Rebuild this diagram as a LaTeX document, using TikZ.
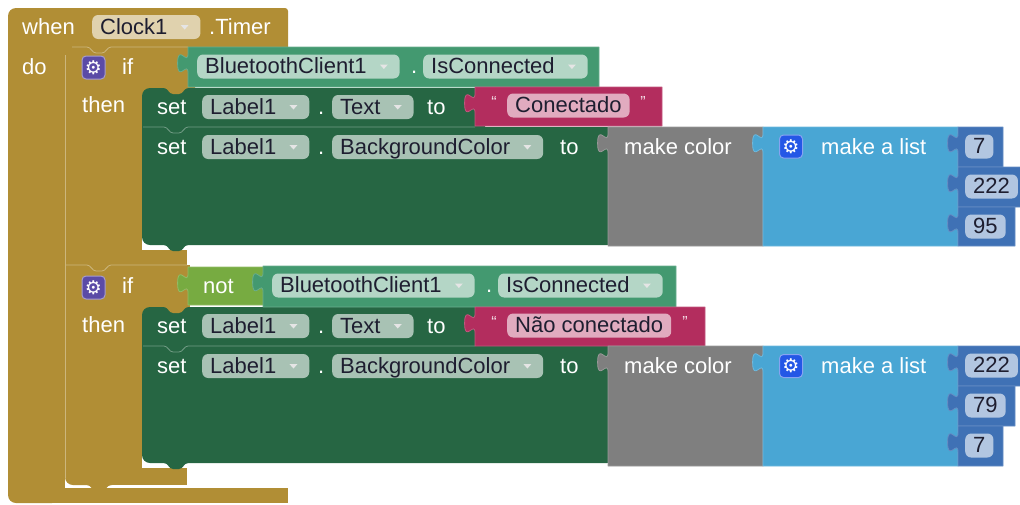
\documentclass[tikz,border=0pt]{standalone}
\usepackage{fontspec}
\setmainfont{Liberation Sans}
\newfontfamily\gearfont{DejaVu Sans}

% block palette
\definecolor{ctl}{HTML}{B18E35}
\definecolor{cget}{HTML}{439970}
\definecolor{cset}{HTML}{266643}
\definecolor{ctxt}{HTML}{B32D5E}
\definecolor{cmk}{HTML}{7F7F7F}
\definecolor{clst}{HTML}{49A6D4}
\definecolor{cnum}{HTML}{3F71B5}
\definecolor{clgc}{HTML}{77AB41}
\definecolor{ink}{HTML}{1E1E30}
\definecolor{gearp}{HTML}{5B4BA6}
\definecolor{gearb}{HTML}{2457E6}

% value block: body L,T,R,B with a puzzle tab on its left edge
\newcommand\valblk[5]{%
  \path[fill=#5, draw=#5!80!white, line width=0.8pt, line join=round]
    (#1,#2) -- (#3,#2) -- (#3,#4) -- (#1,#4) -- (#1,#2+26)
    .. controls (#1,#2+13) and (#1-10.4,#2+36.4) .. (#1-10.4,#2+16.25)
    .. controls (#1-10.4,#2-3.9) and (#1,#2+19.5) .. (#1,#2+6.5) -- cycle;}

% statement connector bump hanging below an edge: start x, edge y, colour
\newcommand\bump[3]{%
  \fill[#3] (#1,#2-1) -- (#1,#2) .. controls (#1+4,#2) and (#1+5,#2+6) .. (#1+9,#2+6)
    -- (#1+15,#2+6) .. controls (#1+19,#2+6) and (#1+20,#2) .. (#1+24,#2)
    -- (#1+24,#2-1) -- cycle;}

% light seam between stacked blocks: notch start, x1, x2, y, colour
\newcommand\seam[5]{%
  \draw[#5, line width=0.8pt] (#2,#4) -- (#1,#4) .. controls (#1+4,#4) and (#1+5,#4+6) .. (#1+9,#4+6)
    -- (#1+15,#4+6) .. controls (#1+19,#4+6) and (#1+20,#4) .. (#1+24,#4) -- (#3,#4);}

% small dropdown triangle inside a field
\newcommand\ddtri[1]{%
  \fill[white!90!black] ([xshift=-20pt,yshift=2pt]#1.east) -- ([xshift=-12pt,yshift=2pt]#1.east)
    -- ([xshift=-16pt,yshift=-2.5pt]#1.east) -- cycle;}

% room for the dropdown triangle after a field's text
\newcommand\ddroom{\kern25pt}

\tikzset{
  lbl/.style={anchor=base west, inner sep=0pt, text=white, font=\fontsize{22}{26}\selectfont},
  field/.style={anchor=west, inner xsep=8pt, inner ysep=2pt, text height=17pt, text depth=3pt,
    rounded corners=6pt, text=ink, fill=#1!40!white, font=\fontsize{22}{26}\selectfont},
  gearbox/.style={minimum size=23pt, inner sep=0pt, rounded corners=4pt, fill=#1,
    draw=#1!55!white, line width=1pt, text=white, font=\gearfont\fontsize{19}{19}\selectfont},
  quote/.style={inner sep=0pt, text=white!85!ctxt, font=\fontsize{16}{16}\selectfont},
}

\begin{document}
\begin{tikzpicture}[x=1pt,y=-1pt]
\clip (0,0) rectangle (1020,504);

% ---------- event handler: when Clock1.Timer ----------
\fill[ctl, rounded corners=8pt] (8,8) rectangle (120,60);
\fill[ctl, rounded corners=3pt] (60,8) rectangle (288,60);
\fill[ctl] (8,30) rectangle (65,495);
\fill[ctl, rounded corners=8pt] (8,470) rectangle (60,503);
\fill[ctl] (30,488) rectangle (288,503);

\node[lbl] (when) at (22,34) {when};
\node[field=ctl] (clock) at (92,27) {Clock1\ddroom};
\ddtri{clock}
\node[lbl] (timer) at (209,34) {.Timer};
\node[lbl] (do) at (22,74) {do};

% ---------- first if ----------
\fill[ctl, rounded corners=8pt] (65,47) rectangle (195,100);
\fill[ctl] (65,90) rectangle (142,255);
\fill[ctl] (65,250) rectangle (187,265);

% ---------- second if ----------
\fill[ctl] (65,265) rectangle (190,320);
\fill[ctl] (65,300) rectangle (142,475);
\fill[ctl, rounded corners=8pt] (65,440) rectangle (120,485);
\fill[ctl] (100,468) rectangle (187,485);
\bump{87}{485}{ctl}

% seams and left highlights of the if blocks
\seam{87}{72}{188}{47}{ctl!65!white}
\seam{87}{65}{187}{265}{ctl!65!white}
\draw[ctl!65!white, line width=0.8pt] (65.5,55) -- (65.5,478);

% ---------- setters inside the first if ----------
\fill[cset, rounded corners=8pt] (142,88) rectangle (485,140);
\fill[cset] (142,127) rectangle (615,230);
\fill[cset, rounded corners=8pt] (142,200) rectangle (615,245);
\bump{164}{88}{ctl}
\bump{164}{245}{cset}
\seam{164}{143}{475}{127}{cset!65!white}

% ---------- setters inside the second if ----------
\fill[cset, rounded corners=8pt] (142,307) rectangle (485,360);
\fill[cset] (142,346) rectangle (615,450);
\fill[cset, rounded corners=8pt] (142,420) rectangle (615,463);
\bump{164}{307}{ctl}
\bump{164}{463}{cset}
\seam{164}{143}{475}{346}{cset!65!white}

% ---------- if 1 labels and condition ----------
\node[gearbox=gearp] (g1) at (93.5,67.5) {⚙};
\node[lbl] (if1) at (122,74) {if};
\node[lbl] (then1) at (82,112) {then};

\valblk{188}{47}{599}{87}{cget}
\node[field=cget] (bt1) at (197,66.5) {BluetoothClient1\ddroom};
\ddtri{bt1}
\node[lbl] (dot1) at (411,73.5) {.};
\node[field=cget] (con1) at (423,66.5) {IsConnected\ddroom};
\ddtri{con1}

% set Label1.Text to "Conectado"
\node[lbl] (set1) at (157,114) {set};
\node[field=cset] (lab1) at (202,107) {Label1\ddroom};
\ddtri{lab1}
\node[lbl] (dot2) at (318,114) {.};
\node[field=cset] (txt1) at (332,107) {Text\ddroom};
\ddtri{txt1}
\node[lbl] (to1) at (427,114) {to};
\valblk{475}{87}{662}{126}{ctxt}
\node[quote] (q1) at (494,102) {“};
\node[field=ctxt] (str1) at (507,105.5) {Conectado};
\node[quote] (q2) at (643,102) {”};

% set Label1.BackgroundColor to make color (make a list 7 222 95)
\node[lbl] (set2) at (157,154) {set};
\node[field=cset] (lab2) at (202,147) {Label1\ddroom};
\ddtri{lab2}
\node[lbl] (dot3) at (318,154) {.};
\node[field=cset] (bg1) at (332,147) {BackgroundColor\ddroom};
\ddtri{bg1}
\node[lbl] (to2) at (560,154) {to};
\valblk{608}{127}{763}{246}{cmk}
\node[lbl] (mk1) at (624,154) {make color};
\valblk{763}{127}{958}{246}{clst}
\node[gearbox=gearb] (g2) at (791,146.5) {⚙};
\node[lbl] (ls1) at (821,154) {make a list};
\valblk{958}{127}{1003}{167}{cnum}
\node[field=cnum] (n1) at (965,146.5) {7};
\valblk{958}{167}{1027}{207}{cnum}
\node[field=cnum] (n2) at (965,186.5) {222};
\valblk{958}{207}{1015}{246}{cnum}
\node[field=cnum] (n3) at (965,226.5) {95};

% ---------- if 2 labels and condition ----------
\node[gearbox=gearp] (g3) at (93.5,287.5) {⚙};
\node[lbl] (if2) at (122,293) {if};
\node[lbl] (then2) at (82,332) {then};

\valblk{188}{267}{275}{305}{clgc}
\node[lbl] (not) at (203,293) {not};
\valblk{263}{266}{676}{307}{cget}
\node[field=cget] (bt2) at (272,285.5) {BluetoothClient1\ddroom};
\ddtri{bt2}
\node[lbl] (dot4) at (486,292.5) {.};
\node[field=cget] (con2) at (498,285.5) {IsConnected\ddroom};
\ddtri{con2}

% set Label1.Text to "Não conectado"
\node[lbl] (set3) at (157,333) {set};
\node[field=cset] (lab3) at (202,326) {Label1\ddroom};
\ddtri{lab3}
\node[lbl] (dot5) at (318,333) {.};
\node[field=cset] (txt2) at (332,326) {Text\ddroom};
\ddtri{txt2}
\node[lbl] (to3) at (427,333) {to};
\valblk{475}{307}{705}{346}{ctxt}
\node[quote] (q3) at (494,322) {“};
\node[field=ctxt] (str2) at (507,325.5) {Não conectado};
\node[quote] (q4) at (685,322) {”};

% set Label1.BackgroundColor to make color (make a list 222 79 7)
\node[lbl] (set4) at (157,373) {set};
\node[field=cset] (lab4) at (202,366) {Label1\ddroom};
\ddtri{lab4}
\node[lbl] (dot6) at (318,373) {.};
\node[field=cset] (bg2) at (332,366) {BackgroundColor\ddroom};
\ddtri{bg2}
\node[lbl] (to4) at (560,373) {to};
\valblk{608}{346}{763}{466}{cmk}
\node[lbl] (mk2) at (624,373) {make color};
\valblk{763}{346}{958}{466}{clst}
\node[gearbox=gearb] (g4) at (791,366) {⚙};
\node[lbl] (ls2) at (821,373) {make a list};
\valblk{958}{346}{1027}{386}{cnum}
\node[field=cnum] (n4) at (965,365.5) {222};
\valblk{958}{386}{1015}{426}{cnum}
\node[field=cnum] (n5) at (965,405.5) {79};
\valblk{958}{426}{1003}{466}{cnum}
\node[field=cnum] (n6) at (965,445.5) {7};

\end{tikzpicture}
\end{document}
